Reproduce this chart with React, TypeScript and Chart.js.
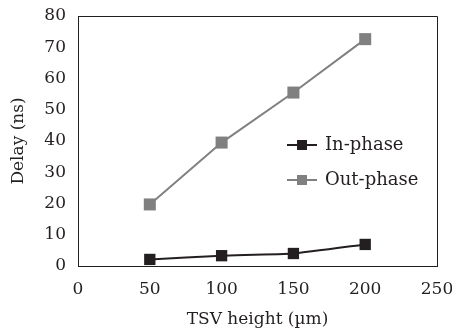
import React, { useEffect, useRef } from "react";
import { Chart, registerables } from "chart.js";

Chart.register(...registerables);

const xValues = [50, 100, 150, 200];
const inPhase = [2.1, 3.3, 4.0, 6.9];
const outPhase = [19.7, 39.5, 55.5, 72.6];
const seriesNames = ["In-phase", "Out-phase"];
const xTitle = "TSV height (\u00B5m)";
const yTitle = "Delay (ns)";

const INK = "#231f20";
const GRAY = "#808080";
const FONT = "'DejaVu Serif', serif";

const framePlugin = {
  id: "frame",
  afterDatasetsDraw(chart: any) {
    const { ctx, chartArea: a } = chart;
    ctx.save();
    ctx.strokeStyle = INK;
    ctx.lineWidth = 1;
    ctx.beginPath();
    ctx.moveTo(Math.round(a.left) + 0.5, Math.round(a.top) + 0.5);
    ctx.lineTo(Math.round(a.right) + 0.5, Math.round(a.top) + 0.5);
    ctx.lineTo(Math.round(a.right) + 0.5, Math.round(a.bottom) + 0.5);
    ctx.stroke();
    ctx.restore();
  },
};

const legendPlugin = {
  id: "customLegend",
  afterDraw(chart: any) {
    const { ctx } = chart;
    const x0 = 287;
    const rows = [145, 180];
    ctx.save();
    chart.data.datasets.forEach((ds: any, i: number) => {
      const y = rows[i];
      ctx.strokeStyle = ds.borderColor;
      ctx.lineWidth = 2;
      ctx.beginPath();
      ctx.moveTo(x0, y);
      ctx.lineTo(x0 + 30, y);
      ctx.stroke();
      ctx.fillStyle = ds.backgroundColor;
      ctx.fillRect(x0 + 15 - 5, y - 5, 10, 10);
      ctx.fillStyle = INK;
      ctx.font = `18px ${FONT}`;
      ctx.textBaseline = "middle";
      ctx.textAlign = "left";
      ctx.fillText(ds.label, x0 + 38, y);
    });
    ctx.restore();
  },
};

export default function App() {
  const ref = useRef<HTMLCanvasElement>(null);
  useEffect(() => {
    if (!ref.current) return;
    const chart = new Chart(ref.current, {
      type: "line",
      data: {
        datasets: [
          {
            label: seriesNames[0],
            data: xValues.map((x, i) => ({ x, y: inPhase[i] })),
            borderColor: INK,
            backgroundColor: INK,
            borderWidth: 2,
            pointStyle: "rect",
            pointRadius: 8,
            pointBorderWidth: 0,
            tension: 0.15,
          },
          {
            label: seriesNames[1],
            data: xValues.map((x, i) => ({ x, y: outPhase[i] })),
            borderColor: GRAY,
            backgroundColor: GRAY,
            borderWidth: 2,
            pointStyle: "rect",
            pointRadius: 8.5,
            pointBorderWidth: 0,
            tension: 0,
          },
        ],
      },
      options: {
        animation: false,
        responsive: false,
        layout: { padding: { top: 16, right: 15, left: 0, bottom: 0 } },
        plugins: { legend: { display: false }, tooltip: { enabled: false } },
        scales: {
          x: {
            type: "linear",
            min: 0,
            max: 250,
            ticks: { stepSize: 50, color: INK, font: { family: FONT, size: 17 }, padding: 8 },
            grid: { display: false, drawTicks: true, tickLength: 5, tickColor: INK },
            border: { color: INK, width: 1 },
            title: { display: true, text: xTitle, color: INK, font: { family: FONT, size: 17 }, padding: { top: 4, bottom: 3 } },
            afterFit: (axis: any) => { axis.height = 67; axis.paddingLeft = 0; axis.paddingRight = 0; },
          },
          y: {
            min: 0,
            max: 80,
            ticks: { stepSize: 10, color: INK, font: { family: FONT, size: 17 }, padding: 7 },
            grid: { display: false, drawTicks: true, tickLength: 5, tickColor: INK },
            border: { color: INK, width: 1 },
            title: { display: true, text: yTitle, color: INK, font: { family: FONT, size: 17 }, padding: { top: 8, bottom: 0 } },
            afterFit: (axis: any) => { axis.width = 78; axis.paddingTop = 0; axis.paddingBottom = 0; },
          },
        },
      },
      plugins: [framePlugin, legendPlugin],
    } as any);
    return () => chart.destroy();
  }, []);
  return (
    <div style={{ position: "fixed", left: 0, top: 0, width: 452, height: 333, background: "#fff" }}>
      <canvas ref={ref} width={452} height={333} style={{ width: 452, height: 333 }} />
    </div>
  );
}
